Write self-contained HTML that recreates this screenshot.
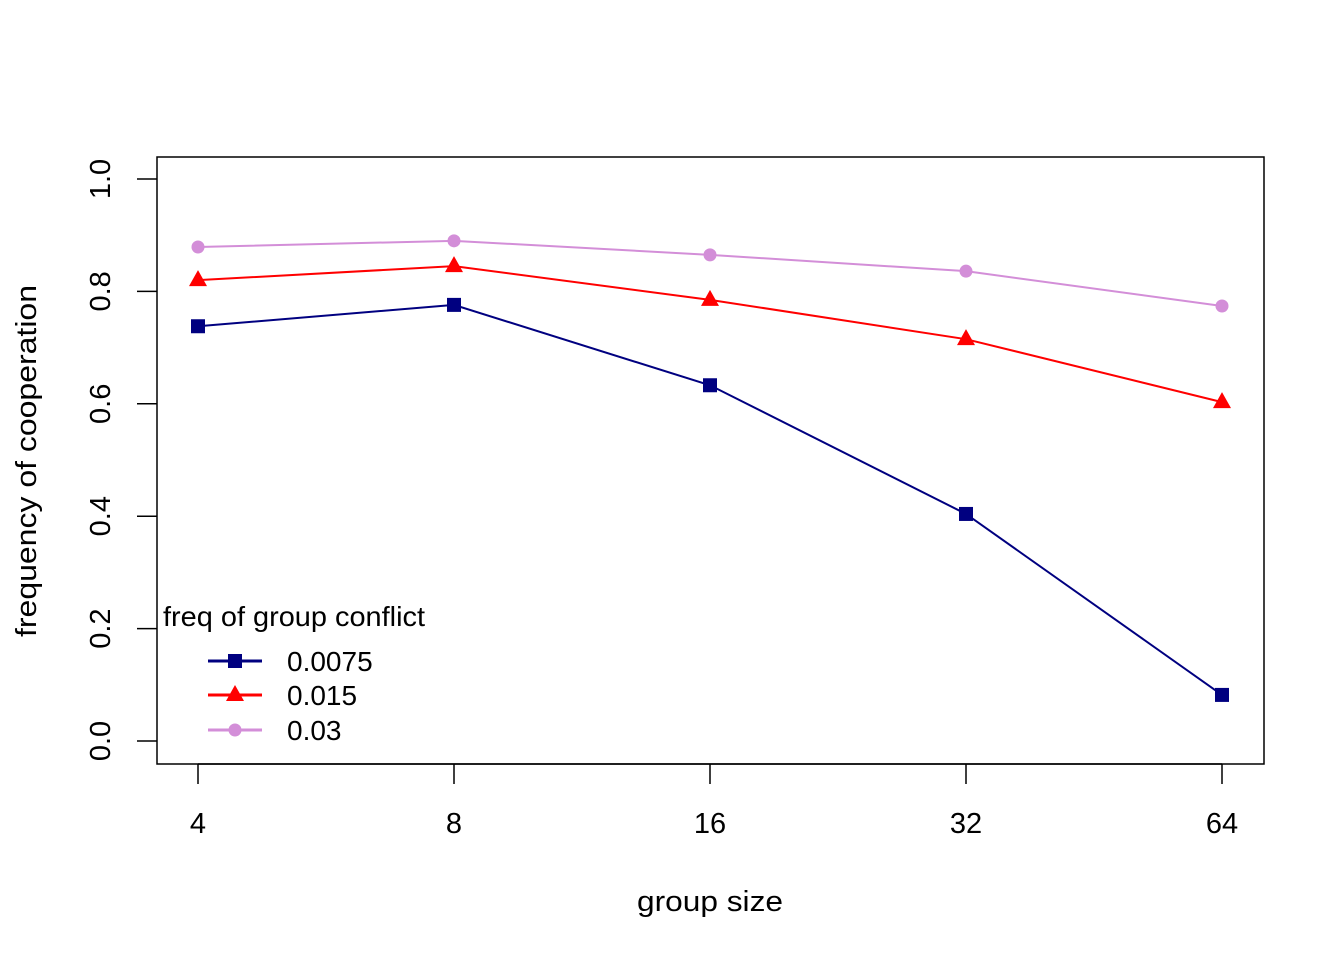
<!DOCTYPE html>
<html><head><meta charset="utf-8"><style>
body{margin:0;background:#fff}
svg text{font-family:"Liberation Sans",Arial,sans-serif;fill:#000}
</style></head><body>
<svg id="chart" width="1344" height="960" xmlns="http://www.w3.org/2000/svg">
<rect x="0" y="0" width="1344" height="960" fill="#fff"/>
<rect x="157" y="157" width="1107" height="607" fill="none" stroke="#000" stroke-width="1.5"/>
<g id="xaxis"></g>
<g id="yaxis"></g>
<text x="710" y="911" font-size="29" text-anchor="middle" textLength="146" lengthAdjust="spacingAndGlyphs">group size</text>
<text transform="translate(36,461) rotate(-90)" font-size="29" text-anchor="middle" textLength="352" lengthAdjust="spacingAndGlyphs">frequency of cooperation</text>
<g id="series"></g>
<g id="legend">
<text x="163" y="626" font-size="28" textLength="262" lengthAdjust="spacingAndGlyphs">freq of group conflict</text>
</g>
</svg>
<script>
const categories = ["4","8","16","32","64"];
const yTicks = [0,0.2,0.4,0.6,0.8,1.0];
const yTickLabels = ["0.0","0.2","0.4","0.6","0.8","1.0"];
const seriesNames = ["0.0075","0.015","0.03"];
const seriesA = [0.738,0.776,0.633,0.404,0.082];
const seriesB = [0.820,0.845,0.785,0.715,0.603];
const seriesC = [0.879,0.890,0.865,0.836,0.774];

const NS="http://www.w3.org/2000/svg";
function xPos(i){return 198 + i*256;}
function yPos(v){return 741 - v*562;}
function mk(tag,attrs,parent){const e=document.createElementNS(NS,tag);for(const k in attrs)e.setAttribute(k,attrs[k]);parent.appendChild(e);return e;}

const xa=document.getElementById('xaxis');
categories.forEach((c,i)=>{
  const t=mk('line',{x1:xPos(i),x2:xPos(i),y1:764,y2:784,stroke:'#000','stroke-width':1.5},xa);
  
  
  const l=mk('text',{x:xPos(i),y:833,'font-size':29,'text-anchor':'middle'},xa);
  l.textContent=c;
  
  
});
const ya=document.getElementById('yaxis');
yTicks.forEach((v,i)=>{
  const t=mk('line',{x1:137,x2:157,y1:yPos(v),y2:yPos(v),stroke:'#000','stroke-width':1.5},ya);
  
  
  const l=mk('text',{transform:`translate(110,${yPos(v)}) rotate(-90)`,'font-size':29,'text-anchor':'middle'},ya);
  l.textContent=yTickLabels[i];
  
  
});
mk('line',{x1:xPos(0),x2:xPos(4),y1:764,y2:764,stroke:'#000','stroke-width':1.5},xa);

function marker(type,x,y,color,parent){
  let e;
  if(type==='sq') e=mk('rect',{x:x-7,y:y-7,width:14,height:14,fill:color},parent);
  else if(type==='tri') e=mk('polygon',{points:`${x},${y-10} ${x+9},${y+6} ${x-9},${y+6}`,fill:color},parent);
  else e=mk('circle',{cx:x,cy:y,r:6.5,fill:color},parent);
  return e;
}
const sg=document.getElementById('series');
const all=[[seriesA,'#000080','sq'],[seriesB,'#ff0000','tri'],[seriesC,'#d38ed8','circ']];
all.forEach(([vals,col,m],si)=>{
  const pts=vals.map((v,i)=>xPos(i)+','+yPos(v)).join(' ');
  const pl=mk('polyline',{points:pts,fill:'none',stroke:col,'stroke-width':2},sg);
  
  
  vals.forEach((v,i)=>{
    const mm=marker(m,xPos(i),yPos(v),col,sg);
    
    
  });
});
const lg=document.getElementById('legend');
const ly=[661,695,730];
all.forEach(([vals,col,m],si)=>{
  const l=mk('line',{x1:208,x2:262,y1:ly[si],y2:ly[si],stroke:col,'stroke-width':3},lg);
  
  
  const mm=marker(m,235,ly[si],col,lg);
  
  
  const t=mk('text',{x:287,y:ly[si]+10,'font-size':28},lg);
  t.textContent=seriesNames[si];
  
  
});
</script>
</body></html>
